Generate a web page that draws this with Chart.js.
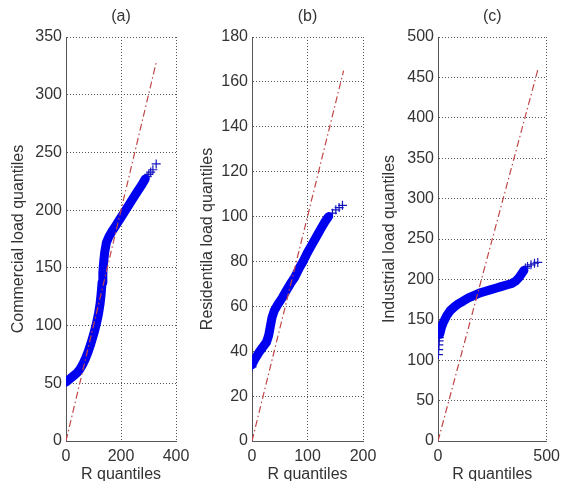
<!DOCTYPE html>
<html>
<head>
<meta charset="utf-8">
<script src="https://cdn.jsdelivr.net/npm/chart.js@4.4.0/dist/chart.umd.min.js"></script>
<style>
  html, body { margin: 0; padding: 0; background: #fff; overflow: hidden; }
  #wrap { position: relative; width: 566px; height: 481px; overflow: hidden; }
  canvas { position: absolute; left: 0; top: 0; }
</style>
</head>
<body>
<div id="wrap">
  <canvas id="chartA" width="566" height="487"></canvas>
  <canvas id="chartB" width="566" height="487"></canvas>
  <canvas id="chartC" width="566" height="487"></canvas>
</div>
<script>
// (a) commercial load
const aBandX = [0, 10, 20, 30, 40, 50, 60, 70, 80, 90, 100, 110, 118, 124, 128, 131, 134, 137, 141, 147, 156, 168, 182, 198, 214, 230, 246, 262, 276, 288];
const aBandY = [51, 53, 55, 57, 59, 62, 66, 71, 77, 84, 92, 101, 110, 119, 128, 137, 146, 155, 164, 172, 177, 182, 187, 193, 199, 205, 211, 217, 222, 227];
const aTailX = [295, 301, 308, 316, 328];
const aTailY = [229, 231, 233, 235, 240];
const aRefX = [0, 330];
const aRefY = [0, 330];
const aXTicks = [0, 200, 400];
const aYTicks = [0, 50, 100, 150, 200, 250, 300, 350];

// (b) residential load
const bBandX = [0, 4, 9, 14, 20, 26, 30, 33, 36, 40, 47, 55, 62, 69, 77, 85, 92, 100, 108, 116, 124, 131, 138];
const bBandY = [34, 36, 38, 40, 42, 44, 47, 51, 55, 58, 61, 64, 67, 70, 73, 77, 80, 84, 87.5, 91, 94.5, 97.5, 100];
const bHeadX = [0, 1];
const bHeadY = [33, 35];
const bTailX = [145, 151, 157, 163];
const bTailY = [101.5, 103, 104, 105];
const bRefX = [0, 165];
const bRefY = [0, 165];
const bXTicks = [0, 100, 200];
const bYTicks = [0, 20, 40, 60, 80, 100, 120, 140, 160, 180];

// (c) industrial load
const cBandX = [8, 15, 25, 40, 55, 75, 95, 115, 140, 165, 190, 215, 240, 265, 290, 315, 340, 358, 372, 385, 395];
const cBandY = [132, 140, 147, 155, 161, 166, 170, 173, 177, 180, 183, 185, 187, 189, 191, 193, 195, 198, 202, 207, 211];
const cHeadX = [2, 3, 4, 5, 6];
const cHeadY = [107, 113, 119, 124, 128];
const cTailX = [402, 412, 428, 444, 459];
const cTailY = [214, 216, 218, 220, 221];
const cRefX = [0, 460];
const cRefY = [0, 460];
const cXTicks = [0, 500];
const cYTicks = [0, 50, 100, 150, 200, 250, 300, 350, 400, 450, 500];

const FONT = 'Liberation Sans, Arial, sans-serif';
const TEXT = '#333';
const GRID = '#555';
const BLUE = '#0000f0';
const RED = '#c04848';

function toPoints(xs, ys) {
    return xs.map((x, i) => ({ x: x, y: ys[i] }));
}

function makePanel(id, p) {
    const datasets = [
        {
            data: toPoints(p.refX, p.refY),
            showLine: true,
            borderColor: RED,
            borderWidth: 1.2,
            borderDash: [7, 3, 1.5, 3],
            pointRadius: 0
        },
        {
            data: toPoints(p.bandX, p.bandY),
            showLine: true,
            borderColor: BLUE,
            borderWidth: 9,
            borderCapStyle: 'round',
            borderJoinStyle: 'round',
            pointRadius: 0
        },
        {
            data: toPoints(p.markX, p.markY),
            showLine: false,
            pointStyle: 'cross',
            pointRadius: 4.5,
            pointBorderWidth: 1.2,
            pointBorderColor: '#1515c0'
        }
    ];

    new Chart(document.getElementById(id), {
        type: 'scatter',
        data: { datasets: datasets },
        options: {
            responsive: false,
            animation: false,
            events: [],
            devicePixelRatio: 1,
            layout: { padding: { right: 566 - p.plotRight } },
            plugins: {
                legend: { display: false },
                tooltip: { enabled: false },
                title: {
                    display: true,
                    text: p.title,
                    fullSize: false,
                    color: TEXT,
                    font: { family: FONT, size: 16, weight: 'normal' },
                    padding: { top: 7.4, bottom: 10.4 }
                }
            },
            scales: {
                x: {
                    type: 'linear',
                    min: p.xTicks[0],
                    max: p.xTicks[p.xTicks.length - 1],
                    afterFit: (s) => { s.height = 46; },
                    ticks: {
                        stepSize: p.xTicks[1] - p.xTicks[0],
                        color: TEXT,
                        padding: 6,
                        maxRotation: 0,
                        font: { family: FONT, size: 16 }
                    },
                    grid: { color: GRID, lineWidth: 1, drawTicks: false },
                    border: { display: true, color: '#555', width: 1, dash: [1, 2] },
                    title: {
                        display: true,
                        text: 'R quantiles',
                        color: TEXT,
                        font: { family: FONT, size: 16 },
                        padding: { top: 0, bottom: 2.4 }
                    }
                },
                y: {
                    type: 'linear',
                    min: p.yTicks[0],
                    max: p.yTicks[p.yTicks.length - 1],
                    afterFit: (s) => { s.width = p.plotLeft; },
                    ticks: {
                        stepSize: p.yTicks[1] - p.yTicks[0],
                        color: TEXT,
                        padding: 4,
                        font: { family: FONT, size: 16 }
                    },
                    grid: { color: GRID, lineWidth: 1, drawTicks: false },
                    border: { display: true, color: '#555', width: 1, dash: [1, 2] },
                    title: {
                        display: true,
                        text: p.yTitle,
                        color: TEXT,
                        font: { family: FONT, size: 16 },
                        padding: { top: p.yTitleX - 9.6, bottom: 0 }
                    }
                }
            }
        }
    });
}

makePanel('chartA', {
    title: '(a)', yTitle: 'Commercial load quantiles',
    bandX: aBandX, bandY: aBandY,
    markX: aTailX, markY: aTailY,
    refX: aRefX, refY: aRefY,
    xTicks: aXTicks, yTicks: aYTicks,
    plotLeft: 66, plotRight: 176, yTitleX: 18.6
});

makePanel('chartB', {
    title: '(b)', yTitle: 'Residentila load quantiles',
    bandX: bBandX, bandY: bBandY,
    markX: bHeadX.concat(bTailX), markY: bHeadY.concat(bTailY),
    refX: bRefX, refY: bRefY,
    xTicks: bXTicks, yTicks: bYTicks,
    plotLeft: 252, plotRight: 363, yTitleX: 208
});

makePanel('chartC', {
    title: '(c)', yTitle: 'Industrial load quantiles',
    bandX: cBandX, bandY: cBandY,
    markX: cHeadX.concat(cTailX), markY: cHeadY.concat(cTailY),
    refX: cRefX, refY: cRefY,
    xTicks: cXTicks, yTicks: cYTicks,
    plotLeft: 438, plotRight: 549, yTitleX: 390
});
</script>
</body>
</html>
